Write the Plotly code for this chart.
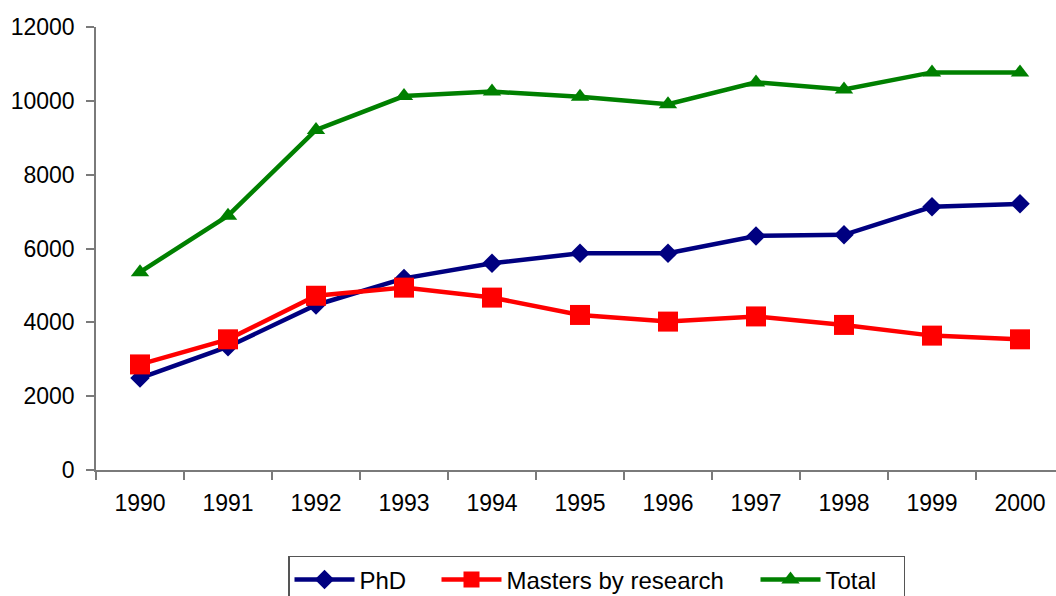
import plotly.graph_objects as go

# Research degree enrolments by year
years = ["1990", "1991", "1992", "1993", "1994", "1995", "1996", "1997", "1998", "1999", "2000"]
phd = [2490, 3340, 4470, 5190, 5600, 5870, 5870, 6340, 6370, 7130, 7210]
masters = [2860, 3540, 4720, 4940, 4670, 4200, 4020, 4160, 3930, 3640, 3540]
total = [5360, 6890, 9210, 10130, 10250, 10110, 9910, 10500, 10310, 10770, 10770]

FONT = "Liberation Sans, Arial, sans-serif"
AXIS = "#7a7a7a"

fig = go.Figure()
fig.add_trace(go.Scatter(
    x=years, y=phd, name="PhD", mode="lines+markers",
    line=dict(color="#000080", width=4.5),
    marker=dict(symbol="diamond", size=15, color="#000080"),
    legendwidth=72,
))
fig.add_trace(go.Scatter(
    x=years, y=masters, name="Masters by research", mode="lines+markers",
    line=dict(color="#ff0000", width=4.5),
    marker=dict(symbol="square", size=20, color="#ff0000"),
    legendwidth=244,
))
fig.add_trace(go.Scatter(
    x=years, y=total, name="Total", mode="lines+markers",
    line=dict(color="#008000", width=4.5),
    marker=dict(symbol="triangle-up", size=16, color="#008000"),
    legendwidth=73,
))

fig.update_layout(
    width=1056, height=596, autosize=False,
    margin=dict(l=96, r=0, t=27, b=126, autoexpand=False),
    paper_bgcolor="white", plot_bgcolor="white",
    font=dict(family=FONT, size=23, color="black"),
    showlegend=True,
    legend=dict(
        orientation="h", x=0.2, xanchor="left", y=-0.194, yanchor="top",
        bordercolor="#555555", borderwidth=1.5, bgcolor="white",
        font=dict(family=FONT, size=24, color="black"),
        itemwidth=60, tracegroupgap=0,
    ),
)
fig.update_xaxes(
    type="category", range=[-0.5, 10.409],
    showline=True, linecolor=AXIS, linewidth=1.5,
    ticks="outside", tickson="boundaries", ticklen=8, tickcolor=AXIS, tickwidth=1.5,
    showgrid=False, zeroline=False, ticklabelstandoff=12,
)
fig.update_yaxes(
    range=[0, 12000], dtick=2000, tick0=0, tickformat="d",
    showline=True, linecolor=AXIS, linewidth=1.5,
    ticks="outside", ticklen=8, tickcolor=AXIS, tickwidth=1.5,
    showgrid=False, zeroline=False, ticklabelstandoff=7,
)

fig.write_html("out.html")
